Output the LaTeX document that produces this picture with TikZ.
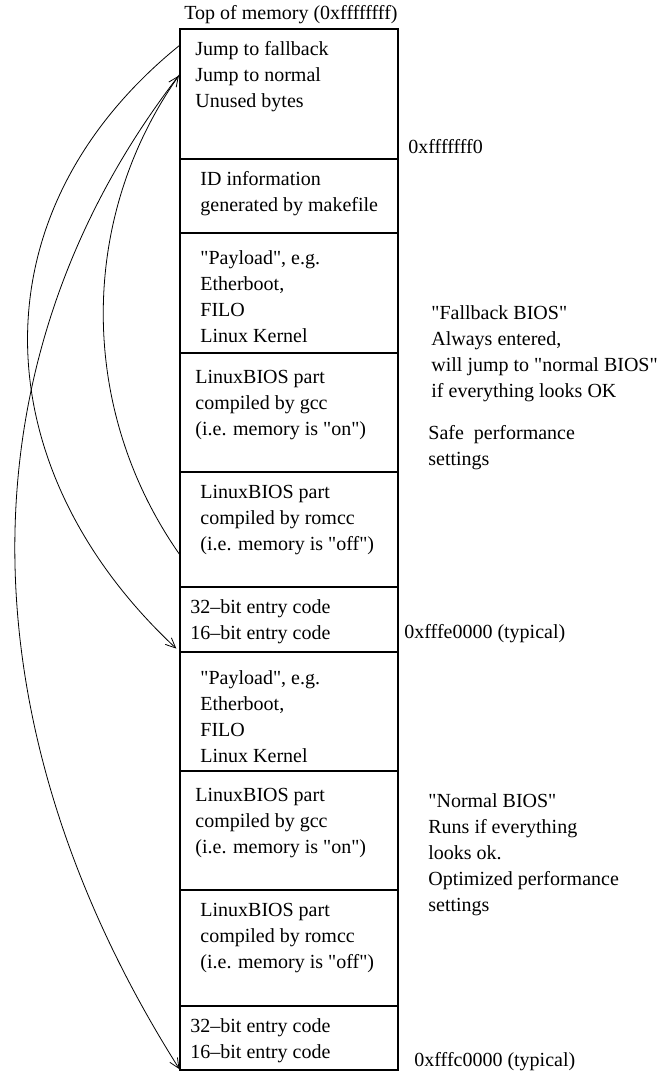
\documentclass[tikz,border=0pt]{standalone}
\usepackage{fontspec}
\setmainfont{Liberation Serif}[Ligatures=TeXOff]
\usepackage{tikz}
\usetikzlibrary{arrows.meta, positioning}

\tikzset{
    blk/.style={draw, line width=0.6pt, minimum width=109pt, inner sep=0pt, outer sep=0pt},
    txt/.style={inner sep=0pt, align=left, font=\fontsize{10}{13}\selectfont},
    jump/.style={line width=0.4pt, -{Straight Barb[length=5pt, width=4.5pt]}}
}

\begin{document}
\begin{tikzpicture}[x=0.5pt, y=-0.5pt]
    \useasboundingbox (0, 0) rectangle (660, 1073);
    % memory blocks, top to bottom
    \node[blk, minimum height=65pt, anchor=north west] (topblk) at (180, 29) {};
    \node[blk, minimum height=37pt, below=0pt of topblk] (idblk) {};
    \node[blk, minimum height=60pt, below=0pt of idblk] (payA) {};
    \node[blk, minimum height=59.5pt, below=0pt of payA] (gccA) {};
    \node[blk, minimum height=57.5pt, below=0pt of gccA] (romA) {};
    \node[blk, minimum height=32.5pt, below=0pt of romA] (entA) {};
    \node[blk, minimum height=59.5pt, below=0pt of entA] (payB) {};
    \node[blk, minimum height=59.5pt, below=0pt of payB] (gccB) {};
    \node[blk, minimum height=58pt, below=0pt of gccB] (romB) {};
    \node[blk, minimum height=32pt, below=0pt of romB] (entB) {};

    % block contents
    \node[txt, anchor=north west] (t-top) at ([xshift=7.5pt, yshift=-6pt]topblk.north west)
        {Jump to fallback\\Jump to normal\\Unused bytes};
    \node[txt, anchor=north west] (t-id) at ([xshift=10pt, yshift=-6pt]idblk.north west)
        {ID information\\generated by makefile};
    \node[txt, anchor=north west] (t-payA) at ([xshift=10pt, yshift=-8.5pt]payA.north west)
        {"Payload", e.g.\\Etherboot,\\FILO\\Linux Kernel};
    \node[txt, anchor=north west] (t-gccA) at ([xshift=7.5pt, yshift=-8.5pt]gccA.north west)
        {LinuxBIOS part\\compiled by gcc\\(i.e. memory is "on")};
    \node[txt, anchor=north west] (t-romA) at ([xshift=10pt, yshift=-6.5pt]romA.north west)
        {LinuxBIOS part\\compiled by romcc\\(i.e. memory is "off")};
    \node[txt, anchor=north west] (t-entA) at ([xshift=5pt, yshift=-6pt]entA.north west)
        {32–bit entry code\\16–bit entry code};
    \node[txt, anchor=north west] (t-payB) at ([xshift=10pt, yshift=-9pt]payB.north west)
        {"Payload", e.g.\\Etherboot,\\FILO\\Linux Kernel};
    \node[txt, anchor=north west] (t-gccB) at ([xshift=7.5pt, yshift=-8.5pt]gccB.north west)
        {LinuxBIOS part\\compiled by gcc\\(i.e. memory is "on")};
    \node[txt, anchor=north west] (t-romB) at ([xshift=10pt, yshift=-6.5pt]romB.north west)
        {LinuxBIOS part\\compiled by romcc\\(i.e. memory is "off")};
    \node[txt, anchor=north west] (t-entB) at ([xshift=5pt, yshift=-6pt]entB.north west)
        {32–bit entry code\\16–bit entry code};

    % addresses and notes
    \node[txt, anchor=west] (topmem) at (184, 15) {Top of memory (0xffffffff)};
    \node[txt, anchor=west] (addr0) at (408, 147) {0xfffffff0};
    \node[txt, anchor=west] (addr1) at (404, 634) {0xfffe0000 (typical)};
    \node[txt, anchor=west] (addr2) at (414, 1062) {0xfffc0000 (typical)};
    \node[txt, anchor=north west] (fallback) at (431, 305)
        {"Fallback BIOS"\\Always entered,\\will jump to "normal BIOS"\\if everything looks OK};
    \node[txt, anchor=north west] (safe) at (428, 425) {Safe~ performance\\settings};
    \node[txt, anchor=north west] (normal) at (428, 793)
        {"Normal BIOS"\\Runs if everything\\looks ok.\\Optimized performance\\settings};

    % jumps
    \coordinate (jfall) at ([yshift=-8pt]topblk.north west);
    \coordinate (jnorm) at ([yshift=-22.5pt]topblk.north west);
    \coordinate (romexit) at ([yshift=-41.5pt]romA.north west);
    \draw[jump, shorten >=2.5pt] (jfall) .. controls +(-209, 169) and +(-196, -183) .. (entA.south west);
    \draw[jump, shorten >=0.5pt] (jnorm) .. controls +(-225, 290) and +(-215, -340) .. (entB.south west);
    \draw[jump, shorten >=1pt] (romexit) .. controls +(-102, -145) and +(-102, 145) .. (jnorm);
\end{tikzpicture}
\end{document}
